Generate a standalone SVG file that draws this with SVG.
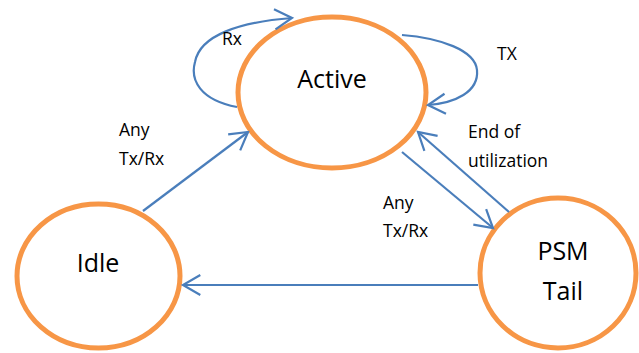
<svg xmlns="http://www.w3.org/2000/svg" width="639" height="353" viewBox="0 0 639 353">
<style>
.node{fill:#fff;stroke:#F79646;stroke-width:5}
.big{font-family:"Open Sans","Liberation Sans",sans-serif;font-size:25px;fill:#000;text-anchor:middle}
.lbl{font-family:"Open Sans","Liberation Sans",sans-serif;font-size:17.5px;fill:#000}
.edge{fill:none;stroke:#4A7EBB;stroke-width:2.2;marker-end:url(#arr)}
</style>
<defs>
<marker id="arr" markerUnits="userSpaceOnUse" markerWidth="30" markerHeight="30" viewBox="-22 -15 30 30" refX="0" refY="0" orient="auto" overflow="visible">
<path d="M-17.3,-10 L0,0 L-17.3,10" fill="none" stroke="#4A7EBB" stroke-width="2.2"/>
</marker>
</defs>
<g id="active"><ellipse class="node" cx="332" cy="92.5" rx="94" ry="75.5"/><text class="big" x="332" y="88">Active</text></g>
<g id="idle"><ellipse class="node" cx="98.5" cy="276" rx="81.5" ry="72"/><text class="big" x="98" y="272">Idle</text></g>
<g id="psm"><ellipse class="node" cx="558" cy="273" rx="78" ry="75"/><text class="big" x="563" y="260">PSM</text><text class="big" x="563" y="300">Tail</text></g>
<g id="connectors">
<path class="edge" d="M143,211 L248,132"/>
<path class="edge" d="M402,152 L493,228"/>
<path class="edge" d="M509,212 L418,132"/>
<path class="edge" d="M478,285 L183,285"/>
<path class="edge" d="M237,107 C200,100 190,80 195,62 C200,35 240,22 292,18"/>
<path class="edge" d="M402,35 C440,38 475,50 477,70 C479,92 455,103 428,105"/>
</g>
<g id="labels">
<text class="lbl" x="222" y="45">Rx</text>
<text class="lbl" x="497" y="60">TX</text>
<text class="lbl" x="119" y="136">Any</text>
<text class="lbl" x="119" y="165">Tx/Rx</text>
<text class="lbl" x="468" y="138">End of</text>
<text class="lbl" x="468" y="167">utilization</text>
<text class="lbl" x="383" y="209">Any</text>
<text class="lbl" x="383" y="237">Tx/Rx</text>
</g>
</svg>
